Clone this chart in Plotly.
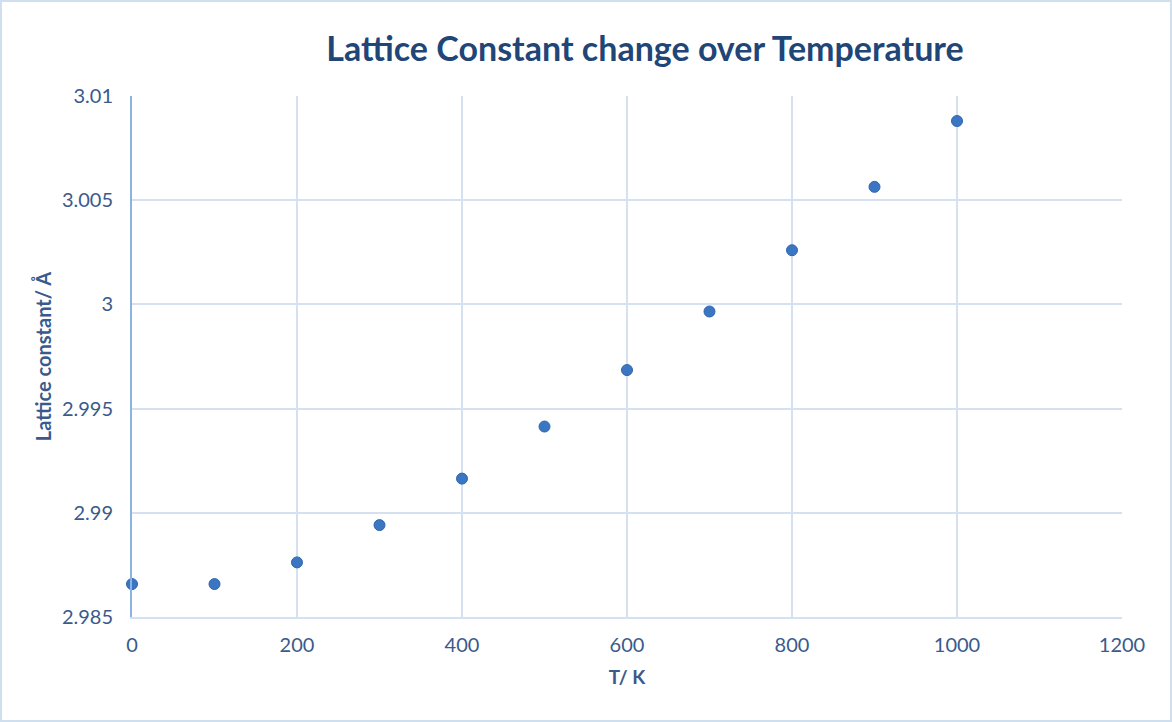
import plotly.graph_objects as go

temperature = [0, 100, 200, 300, 400, 500, 600, 700, 800, 900, 1000]
lattice = [2.98658, 2.98658, 2.98762, 2.98941, 2.99164, 2.99414, 2.99685, 2.99966, 3.00260, 3.00564, 3.00880]

x_ticks = [0, 200, 400, 600, 800, 1000, 1200]
y_ticks = [2.985, 2.99, 2.995, 3.0, 3.005, 3.01]
y_tick_text = ["2.985", "2.99", "2.995", "3", "3.005", "3.01"]

grid_c = "#d5e1f1"
text_c = "#3a5a8c"
font_family = "Lato, Noto Sans, sans-serif"

fig = go.Figure()
fig.add_trace(go.Scatter(
    x=temperature, y=lattice, mode="markers",
    marker=dict(size=11, color="#3a76c2", line=dict(width=1, color="#2f65ab")),
    cliponaxis=False, showlegend=False,
))

fig.update_layout(
    width=1172, height=722,
    margin=dict(l=132, r=50, t=96, b=105),
    paper_bgcolor="white", plot_bgcolor="white",
    title=dict(text="<b>Lattice Constant change over Temperature</b>",
               x=645/1172, xanchor="center", y=1 - 49/722, yanchor="middle",
               font=dict(size=34, color="#1f4677", family=font_family)),
    font=dict(family=font_family, color=text_c),
    xaxis=dict(range=[0, 1200], tickvals=x_ticks, ticktext=[str(v) for v in x_ticks],
               showgrid=True, gridcolor=grid_c, gridwidth=1.5,
               zeroline=False, showline=True, linecolor=grid_c, linewidth=2,
               ticks="", tickfont=dict(size=20, color=text_c), ticklabelstandoff=9,
               title=dict(text="<b>T/ K</b>", font=dict(size=19, color=text_c), standoff=16)),
    yaxis=dict(range=[2.985, 3.01], tickvals=y_ticks, ticktext=y_tick_text,
               showgrid=True, gridcolor=grid_c, gridwidth=1.5,
               zeroline=False, showline=True, linecolor="#8db3e2", linewidth=2,
               ticks="", tickfont=dict(size=20, color=text_c), ticklabelstandoff=13,
               title=dict(text="<b>Lattice constant/ Å</b>", font=dict(size=20, color=text_c), standoff=5)),
    shapes=[dict(type="rect", xref="paper", yref="paper",
                 x0=-131/990, x1=1+49/990, y0=-104/521, y1=1+95/521,
                 line=dict(color="#d0dff0", width=2))],
)

fig.write_html("out.html", config={"displayModeBar": False},
               post_script="document.body.style.margin='0';document.body.style.padding='0';")
